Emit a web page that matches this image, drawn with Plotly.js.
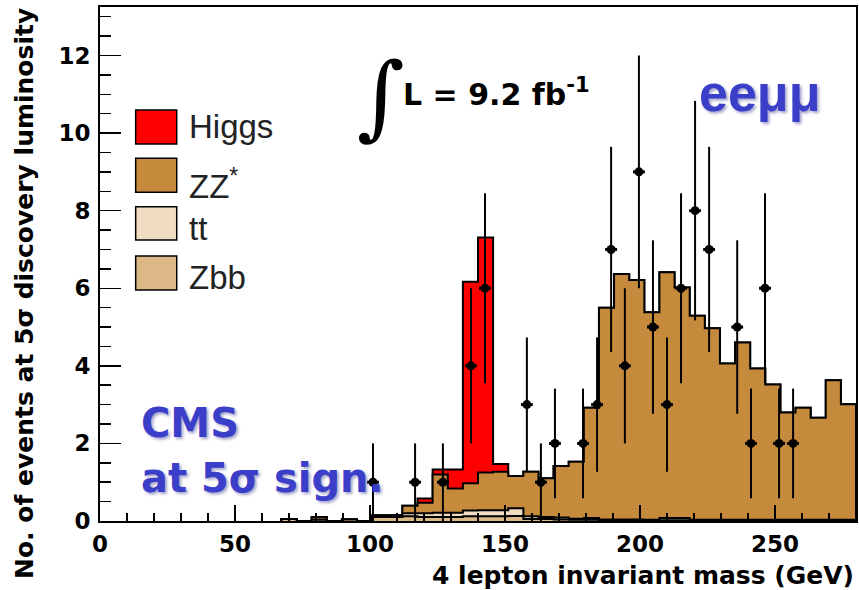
<!DOCTYPE html>
<html><head><meta charset="utf-8">
<script src="https://cdn.plot.ly/plotly-3.0.1.min.js"></script>
<style>html,body{margin:0;padding:0;background:#fff;}#chart{width:859px;height:590px;}</style>
</head><body><div id="chart"></div>
<script>
// ---- MC stack: bins of 5.6 GeV, listed from the bin starting at 67.2 GeV up to 280 GeV ----
const mcFirstBinLow = 67.2;
const mcBinWidth = 5.6;
const zbb   = [0.05,0,0.03,0,0.04,0,0.10,0.10,0.12,0.10,0.10,0.10,0.12,0.12,0.12,0.13,0.05,0.05,0.04,0.03,0.03,0.02,0.02,0.02,0.02,0.02,0.02,0.02,0.02,0.02,0.02,0.02,0.02,0.02,0.02,0.02,0.02,0.02];
const ttbar = [0,0,0,0,0,0,0.02,0.02,0.08,0.10,0.11,0.11,0.15,0.16,0.16,0.20,0.07,0.05,0.05,0.03,0.05,0.02,0.02,0.02,0.01,0.06,0.06,0.01,0.01,0.01,0.01,0.01,0.01,0.01,0.01,0.01,0.01,0.01];
const zz    = [0,0,0.07,0,0,0,0.03,0.03,0.19,0.27,0.99,0.63,0.70,0.97,0.99,0.83,1.15,1.00,1.33,1.47,2.84,5.46,6.33,6.17,5.35,6.33,5.94,5.26,4.94,4.03,4.57,3.90,3.49,2.77,2.89,2.63,3.60,2.98];
const higgs = [0,0,0,0,0,0,0,0,0,0.11,0.13,0.49,5.20,6.06,0.20,0,0,0,0,0,0,0,0,0,0,0,0,0,0,0,0,0,0,0,0,0,0,0];

// ---- pseudo-data: candidate mass (GeV) and number of events ----
const dataMass  = [101.1,116.7,127.0,137.4,142.6,158.1,163.3,168.5,178.9,184.1,189.3,194.4,199.6,204.8,210.0,215.2,220.4,225.6,236.0,241.1,246.3,251.5,256.7];
const dataCount = [1,1,1,4,6,3,1,2,2,3,7,4,9,5,3,6,8,7,5,2,6,2,2];

// ---- labels ----
const legendNames = ["Higgs", "ZZ<sup>*</sup>", "tt", "Zbb"];
const legendColors = ["#ff0000", "#c68a3c", "#f0dcc0", "#dcb887"];
const xTitle = "4 lepton invariant mass (GeV)";
const yTitle = "No. of events at 5σ discovery luminosity";

function addArr(a, b) { return a.map((v, i) => v + b[i]); }
const cZbb = zbb.slice();
const cTt = addArr(cZbb, ttbar);
const cZz = addArr(cTt, zz);
const cH = addArr(cZz, higgs);

function stepTrace(vals, color) {
  const x = [mcFirstBinLow], y = [0];
  vals.forEach((v, i) => { x.push(mcFirstBinLow + i * mcBinWidth); y.push(v); });
  const end = mcFirstBinLow + vals.length * mcBinWidth;
  x.push(end); y.push(vals[vals.length - 1]);
  x.push(end); y.push(0);
  return {
    type: 'scatter', mode: 'lines', x: x, y: y,
    line: {shape: 'hv', color: '#000', width: 2},
    fill: 'tozeroy', fillcolor: color, hoverinfo: 'skip', showlegend: false
  };
}

const traces = [
  stepTrace(cH, legendColors[0]),
  stepTrace(cZz, legendColors[1]),
  stepTrace(cTt, legendColors[2]),
  stepTrace(cZbb, legendColors[3]),
  {
    type: 'scatter', mode: 'markers', x: dataMass, y: dataCount,
    marker: {symbol: 'circle', size: 9, color: '#000'},
    error_y: {type: 'data', array: dataCount.map(Math.sqrt), visible: true, color: '#000', thickness: 2, width: 0},
    error_x: {type: 'constant', value: 2.2, visible: true, color: '#000', thickness: 3, width: 0},
    showlegend: false, hoverinfo: 'skip'
  }
];

const boldFont = {family: 'DejaVu Sans', weight: 700, color: '#000'};
const blue = '#3b3ec9';
const blueShadow = '2px 2px 3px rgba(90,90,160,0.55)';

// legend geometry (paper coordinates)
const legX0 = 0.0472, legX1 = 0.1015, legTextX = 0.1147;
const legBoxY = [[0.7335, 0.7996], [0.6395, 0.7057], [0.5467, 0.6115], [0.4494, 0.5156]];
const legTextY = [0.7675, 0.6547, 0.5681, 0.4728];

const shapes = legendNames.map((n, i) => ({
  type: 'rect', xref: 'paper', yref: 'paper',
  x0: legX0, x1: legX1, y0: legBoxY[i][0], y1: legBoxY[i][1],
  fillcolor: legendColors[i], line: {color: '#000', width: 1.5}
}));

const annotations = legendNames.map((n, i) => ({
  xref: 'paper', yref: 'paper', x: legTextX, y: legTextY[i], xanchor: 'left', yanchor: 'middle',
  text: n, showarrow: false,
  font: {family: 'Liberation Sans, Arial, sans-serif', size: 33, color: '#222'}
}));

annotations.push(
  {xref: 'paper', yref: 'paper', x: -0.1005, y: 0.4416, xanchor: 'center', yanchor: 'middle',
   text: yTitle, textangle: -90, showarrow: false, font: Object.assign({size: 25}, boldFont)},
  {xref: 'paper', yref: 'paper', x: 1.0, y: -0.107, xanchor: 'right', yanchor: 'middle',
   text: xTitle, showarrow: false, font: Object.assign({size: 25}, boldFont)},
  {xref: 'paper', yref: 'paper', x: 0.372, y: 0.826, xanchor: 'center', yanchor: 'middle',
   text: '∫', showarrow: false, font: {family: 'DejaVu Serif, serif', style: 'italic', size: 92, color: '#000'}},
  {xref: 'paper', yref: 'paper', x: 0.398, y: 0.833, xanchor: 'left', yanchor: 'middle',
   text: 'L = 9.2 fb<sup>-1</sup>', showarrow: false, font: Object.assign({size: 30}, boldFont)},
  {xref: 'paper', yref: 'paper', x: 0.8717, y: 0.833, xanchor: 'center', yanchor: 'middle',
   text: 'eeμμ', showarrow: false,
   font: {family: 'Liberation Sans, Arial, sans-serif', weight: 700, size: 52, color: blue, shadow: blueShadow}},
  {xref: 'paper', yref: 'paper', x: 0.0516, y: 0.1907, xanchor: 'left', yanchor: 'middle',
   text: 'CMS', showarrow: false,
   font: {family: 'DejaVu Sans', weight: 700, size: 40, color: blue, shadow: blueShadow}},
  {xref: 'paper', yref: 'paper', x: 0.0516, y: 0.0837, xanchor: 'left', yanchor: 'middle',
   text: 'at 5σ sign.', showarrow: false,
   font: {family: 'DejaVu Sans', weight: 700, size: 40, color: blue, shadow: blueShadow}}
);

const layout = {
  width: 859, height: 590,
  margin: {l: 100, r: 3, t: 7, b: 69},
  paper_bgcolor: '#fff', plot_bgcolor: '#fff',
  showlegend: false,
  xaxis: {
    range: [0, 280], tickmode: 'linear', tick0: 0, dtick: 50,
    ticks: 'inside', ticklen: 16, tickwidth: 1.5, tickcolor: '#000',
    minor: {ticks: 'inside', dtick: 10, ticklen: 8, tickwidth: 1.5, tickcolor: '#000'},
    showline: true, linecolor: '#000', linewidth: 2, mirror: true,
    showgrid: false, zeroline: false, ticklabelstandoff: 1,
    tickfont: Object.assign({size: 23}, boldFont), fixedrange: true
  },
  yaxis: {
    range: [0, 13.25], tickmode: 'linear', tick0: 0, dtick: 2,
    ticks: 'inside', ticklen: 21, tickwidth: 1.5, tickcolor: '#000',
    minor: {ticks: 'inside', dtick: 0.5, ticklen: 11, tickwidth: 1.5, tickcolor: '#000'},
    showline: true, linecolor: '#000', linewidth: 2, mirror: true,
    showgrid: false, zeroline: false, ticklabelstandoff: 3,
    tickfont: Object.assign({size: 23}, boldFont), fixedrange: true
  },
  shapes: shapes,
  annotations: annotations
};

Plotly.newPlot('chart', traces, layout, {displayModeBar: false, staticPlot: true});
</script></body></html>
